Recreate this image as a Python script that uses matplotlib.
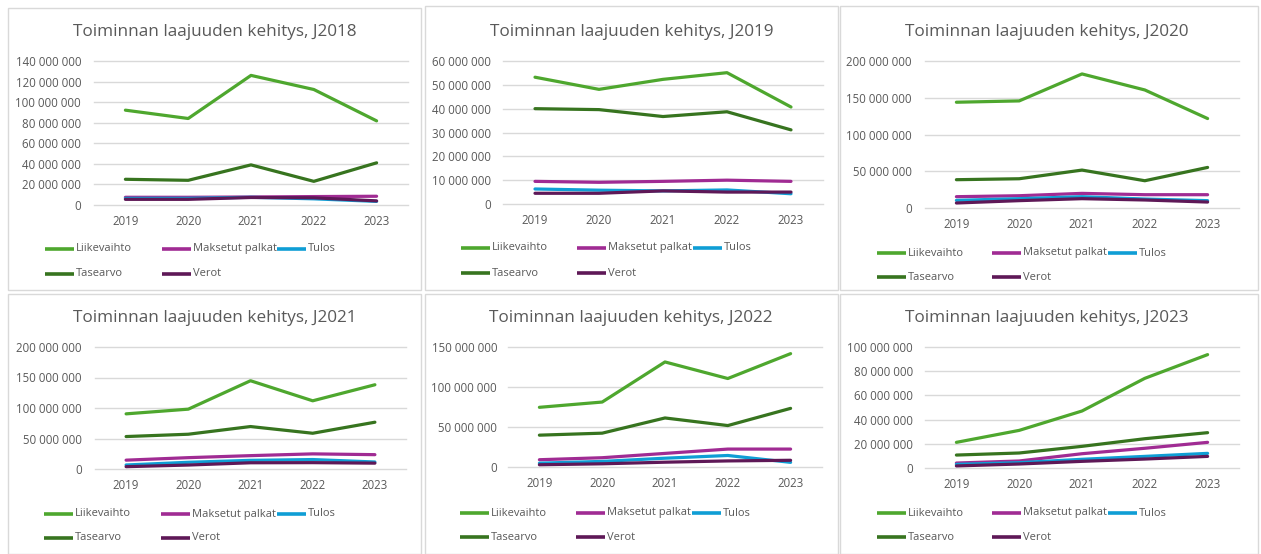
import matplotlib.pyplot as plt
from matplotlib.lines import Line2D
from matplotlib.patches import Rectangle
from matplotlib.ticker import FuncFormatter, MultipleLocator

plt.rcParams['font.family'] = ['Open Sans', 'DejaVu Sans']

W, H = 1261, 554

vuodet = ["2019", "2020", "2021", "2022", "2023"]
sarjat = ["Liikevaihto", "Maksetut palkat", "Tulos", "Tasearvo", "Verot"]
varit = ["#4EA72E", "#A02B93", "#0F9ED5", "#37741F", "#5E1857"]

# arvot miljoonina euroina, järjestys kuten sarjat-listassa
j2018 = [
    [92.2, 84.1, 126.0, 112.3, 81.8],
    [7.5, 7.5, 7.8, 8.2, 8.5],
    [6.5, 6.5, 7.5, 6.0, 3.5],
    [25.0, 24.0, 39.0, 23.0, 41.0],
    [5.5, 5.5, 7.3, 7.0, 4.0],
]
j2019 = [
    [53.2, 48.1, 52.3, 55.1, 40.7],
    [9.5, 9.1, 9.5, 10.0, 9.5],
    [6.3, 5.8, 5.5, 5.9, 4.3],
    [40.0, 39.6, 36.7, 38.7, 31.1],
    [4.5, 4.5, 5.5, 5.0, 5.0],
]
j2020 = [
    [143.9, 145.7, 182.4, 160.6, 121.7],
    [15.4, 16.7, 19.9, 18.1, 18.1],
    [10.4, 12.7, 15.4, 12.2, 10.0],
    [38.5, 39.8, 51.6, 37.1, 55.2],
    [6.8, 10.0, 12.7, 10.9, 8.1],
]
j2021 = [
    [90.4, 98.1, 144.7, 111.8, 138.1],
    [14.5, 18.6, 21.9, 24.8, 23.5],
    [6.6, 11.0, 14.2, 15.5, 11.5],
    [53.2, 57.0, 69.6, 58.6, 76.7],
    [3.8, 6.5, 10.2, 10.4, 9.6],
]
j2022 = [
    [74.6, 81.2, 131.3, 110.6, 141.7],
    [9.1, 11.6, 17.0, 22.4, 22.4],
    [4.8, 7.0, 11.0, 14.4, 5.8],
    [39.8, 42.3, 61.3, 51.8, 73.3],
    [2.8, 4.0, 6.0, 7.6, 8.4],
]
j2023 = [
    [21.2, 31.1, 47.1, 74.1, 93.7],
    [4.1, 5.8, 11.8, 16.3, 21.2],
    [3.0, 4.4, 7.2, 9.6, 12.1],
    [10.7, 12.4, 17.9, 24.2, 29.2],
    [1.7, 3.3, 5.5, 7.4, 9.6],
]

otsikot = ["Toiminnan laajuuden kehitys, J2018", "Toiminnan laajuuden kehitys, J2019",
           "Toiminnan laajuuden kehitys, J2020", "Toiminnan laajuuden kehitys, J2021",
           "Toiminnan laajuuden kehitys, J2022", "Toiminnan laajuuden kehitys, J2023"]
aineistot = [j2018, j2019, j2020, j2021, j2022, j2023]
ylarajat = [140e6, 60e6, 200e6, 200e6, 150e6, 100e6]
askeleet = [20e6, 10e6, 50e6, 50e6, 50e6, 20e6]

# kaavioiden sijainnit kuvapisteinä: kehys, piirtoalue, otsikko, selite
kehykset = [(8, 8, 421, 290), (425, 6, 838, 290), (840, 6, 1258, 290),
            (8, 294, 421, 554), (425, 294, 838, 554), (840, 294, 1258, 554)]
alueet = [(94, 61, 408, 205), (503, 61, 823, 204), (925, 61, 1239, 208),
          (95, 347, 406, 469), (508, 347, 822, 467), (925, 347, 1239, 468)]
otsikko_xy = [(215, 32), (632, 32), (1047, 32), (215, 318), (631, 318), (1047, 318)]
selite_x = [(45, 162, 277), (461, 577, 693), (877, 992, 1108),
            (44, 161, 277), (460, 576, 692), (877, 992, 1108)]
selite_y = [(249, 274), (248, 273), (253, 277), (514, 538), (513, 537), (513, 537)]
nimio_rako = [13, 12, 13, 13, 11, 12]

teksti_vari = "#595959"
muotoilu = FuncFormatter(lambda v, _: f"{v:,.0f}".replace(",", " "))

fig = plt.figure(figsize=(W / 100, H / 100), dpi=100)

def fx(x):
    return x / W

def fy(y):
    return 1 - y / H

def selite(x, y, vari, teksti):
    fig.add_artist(Line2D([fx(x), fx(x + 29)], [fy(y), fy(y)], color=vari, lw=2.6,
                          solid_capstyle='butt'))
    fig.text(fx(x + 31), fy(y), teksti, ha='left', va='center', fontsize=8, color=teksti_vari)

for i in range(6):
    k0, k1, k2, k3 = kehykset[i]
    fig.patches.append(Rectangle((fx(k0), fy(k3)), fx(k2 - k0), (k3 - k1) / H,
                                 transform=fig.transFigure, fill=False,
                                 edgecolor="#D9D9D9", lw=1))

    x0, y0, x1, y1 = alueet[i]
    ax = fig.add_axes([fx(x0), fy(y1), fx(x1 - x0), (y1 - y0) / H])
    for arvot, vari in zip(aineistot[i], varit):
        ax.plot(range(5), [a * 1e6 for a in arvot], color=vari, lw=2.3,
                solid_capstyle='round', solid_joinstyle='round')
    ax.set_xlim(-0.5, 4.5)
    ax.set_ylim(0, ylarajat[i])
    ax.yaxis.set_major_locator(MultipleLocator(askeleet[i]))
    ax.yaxis.set_major_formatter(muotoilu)
    ax.set_xticks(range(5))
    ax.set_xticklabels(vuodet)
    ax.grid(axis='y', color="#D9D9D9", lw=1)
    ax.set_axisbelow(True)
    for s in ax.spines.values():
        s.set_visible(False)
    ax.tick_params(axis='y', length=0, pad=nimio_rako[i] * 0.72, labelsize=8.3, labelcolor=teksti_vari)
    ax.tick_params(axis='x', length=0, pad=7.5, labelsize=8.3, labelcolor=teksti_vari)
    for g in ax.get_ygridlines():
        g.set_clip_on(False)

    tx, ty = otsikko_xy[i]
    fig.text(fx(tx), fy(ty), otsikot[i], ha='center', va='center', fontsize=12.3, color=teksti_vari)

    sx = selite_x[i]
    sy = selite_y[i]
    selite(sx[0], sy[0], varit[0], sarjat[0])
    selite(sx[1], sy[0], varit[1], sarjat[1])
    selite(sx[2], sy[0], varit[2], sarjat[2])
    selite(sx[0], sy[1], varit[3], sarjat[3])
    selite(sx[1], sy[1], varit[4], sarjat[4])

fig.savefig("out.png", dpi=100, facecolor="white")
